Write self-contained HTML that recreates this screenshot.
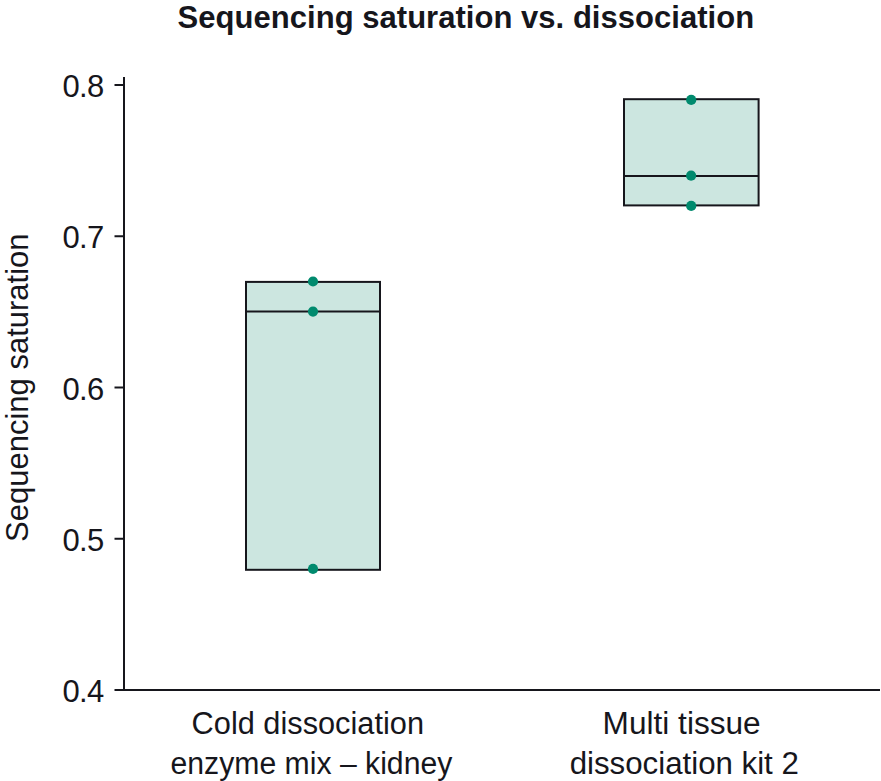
<!DOCTYPE html>
<html>
<head>
<meta charset="utf-8">
<style>
html,body{margin:0;padding:0;background:#fff;width:881px;height:781px;overflow:hidden;}
svg{display:block;}
text{font-family:"Liberation Sans", sans-serif;fill:#16161c;}
</style>
</head>
<body>
<svg width="881" height="781" viewBox="0 0 881 781" xmlns="http://www.w3.org/2000/svg">
  <!-- title -->
  <text x="177.6" y="28" font-size="31" font-weight="bold" textLength="576.5" lengthAdjust="spacing">Sequencing saturation vs. dissociation</text>

  <!-- y label -->
  <text transform="translate(27.7 387.7) rotate(-90)" text-anchor="middle" font-size="31">Sequencing saturation</text>

  <!-- axes -->
  <g stroke="#16161c" stroke-width="2" fill="none" stroke-linecap="butt">
    <line x1="124" y1="77" x2="124" y2="691"/>
    <line x1="114.5" y1="690" x2="880" y2="690"/>
    <line x1="114.5" y1="85" x2="124" y2="85"/>
    <line x1="114.5" y1="236.25" x2="124" y2="236.25"/>
    <line x1="114.5" y1="387.5" x2="124" y2="387.5"/>
    <line x1="114.5" y1="538.75" x2="124" y2="538.75"/>
  </g>

  <!-- tick labels -->
  <g font-size="31" text-anchor="end">
    <text x="104.2" y="97" textLength="41.6" lengthAdjust="spacing">0.8</text>
    <text x="104.2" y="248.25" textLength="41.6" lengthAdjust="spacing">0.7</text>
    <text x="104.2" y="399.5" textLength="41.6" lengthAdjust="spacing">0.6</text>
    <text x="104.2" y="550.75" textLength="41.6" lengthAdjust="spacing">0.5</text>
    <text x="104.2" y="702" textLength="41.6" lengthAdjust="spacing">0.4</text>
  </g>

  <!-- box 1 -->
  <rect x="246" y="281.9" width="134" height="287.9" fill="#cce6e0" stroke="#16161c" stroke-width="2"/>
  <line x1="246" y1="311.6" x2="380" y2="311.6" stroke="#16161c" stroke-width="2"/>
  <!-- box 2 -->
  <rect x="624" y="99.2" width="134.6" height="106.2" fill="#cce6e0" stroke="#16161c" stroke-width="2"/>
  <line x1="624" y1="175.9" x2="758.6" y2="175.9" stroke="#16161c" stroke-width="2"/>

  <!-- dots -->
  <g fill="#008a6e">
    <circle cx="313" cy="281.5" r="5.1"/>
    <circle cx="313" cy="311.6" r="5.1"/>
    <circle cx="313" cy="568.9" r="5.1"/>
    <circle cx="691.2" cy="99.9" r="5.1"/>
    <circle cx="691.1" cy="175.7" r="5.1"/>
    <circle cx="691.2" cy="205.9" r="5.1"/>
  </g>

  <!-- x labels -->
  <g font-size="31">
    <text x="191.6" y="734" textLength="232.4" lengthAdjust="spacingAndGlyphs">Cold dissociation</text>
    <text x="170.5" y="774" textLength="281.8" lengthAdjust="spacingAndGlyphs">enzyme mix – kidney</text>
    <text x="602.6" y="734" textLength="158.1" lengthAdjust="spacingAndGlyphs">Multi tissue</text>
    <text x="569.7" y="774" textLength="229.15" lengthAdjust="spacingAndGlyphs">dissociation kit 2</text>
  </g>
</svg>
</body>
</html>
